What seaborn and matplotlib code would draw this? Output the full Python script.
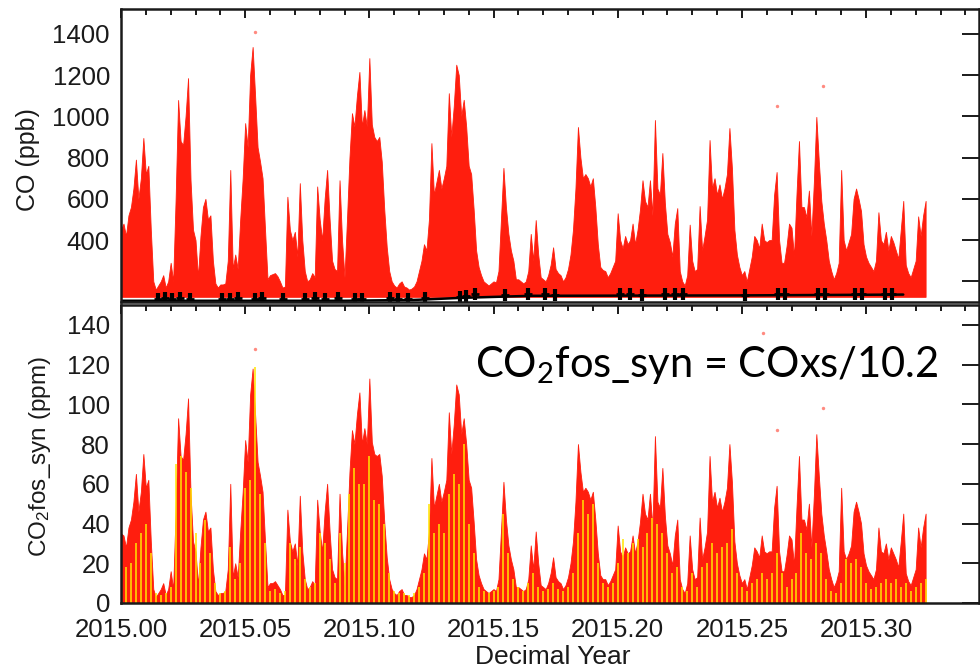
import numpy as np
import pandas as pd
import matplotlib
matplotlib.use("Agg")
import matplotlib.pyplot as plt
import seaborn as sns
from matplotlib.ticker import MultipleLocator, FixedLocator

# ---------------- data ----------------
T_START = 2015.0
STEP_RED = 0.001      # sampling step of the CO / CO2fos series (decimal year)
STEP_YEL = 0.002      # sampling step of the yellow series

co_hi = [450, 480, 420, 520, 560, 650, 790, 600, 700, 895,
         720, 760, 450, 200, 160, 180, 200, 230, 170, 200,
         290, 200, 600, 1079, 880, 860, 1000, 1185, 690, 450,
         400, 220, 420, 560, 600, 500, 520, 300, 190, 170,
         185, 185, 190, 300, 740, 260, 330, 260, 500, 700,
         967, 850, 1200, 1336, 1100, 850, 780, 700, 450, 210,
         230, 235, 240, 225, 200, 170, 175, 610, 450, 400,
         440, 320, 676, 400, 250, 200, 210, 240, 220, 660,
         500, 400, 600, 740, 500, 300, 260, 250, 690, 400,
         220, 500, 800, 1015, 950, 1100, 1215, 950, 1030, 950,
         1282, 960, 900, 880, 900, 780, 550, 367, 250, 200,
         180, 170, 190, 200, 175, 170, 160, 165, 175, 200,
         250, 300, 380, 350, 500, 870, 620, 680, 740, 650,
         700, 760, 1112, 900, 1050, 1250, 1200, 1000, 1080, 950,
         760, 720, 550, 350, 270, 230, 200, 190, 180, 190,
         200, 195, 250, 500, 750, 560, 430, 350, 300, 210,
         210, 200, 190, 200, 250, 430, 300, 497, 330, 220,
         210, 200, 230, 280, 365, 260, 240, 230, 200, 220,
         260, 330, 450, 650, 948, 800, 700, 720, 700, 660,
         700, 560, 380, 270, 255, 250, 220, 240, 270, 300,
         530, 400, 360, 420, 380, 400, 480, 380, 450, 550,
         690, 590, 560, 690, 520, 982, 650, 620, 822, 580,
         430, 390, 320, 480, 555, 250, 200, 180, 230, 475,
         300, 250, 260, 565, 350, 420, 500, 885, 650, 700,
         620, 670, 600, 650, 720, 943, 750, 450, 330, 270,
         230, 250, 200, 260, 320, 420, 400, 360, 480, 400,
         390, 400, 400, 620, 730, 400, 290, 290, 370, 480,
         460, 320, 620, 880, 560, 560, 510, 640, 420, 680,
         997, 780, 590, 480, 400, 300, 250, 210, 240, 290,
         740, 400, 350, 390, 430, 600, 650, 600, 540, 380,
         320, 290, 270, 250, 300, 535, 400, 380, 440, 350,
         420, 390, 350, 310, 450, 590, 280, 240, 220, 260,
         300, 515, 420, 520, 590]
CO_FLOOR = 125

co2_hi = [35, 34, 28, 38, 42, 51, 65, 46, 56, 75,
          58, 62, 31, 7, 3, 5, 7, 10, 4, 7,
          16, 7, 46, 93, 74, 72, 85, 103, 55, 31,
          26, 9, 28, 42, 46, 36, 38, 17, 6, 4,
          5, 5, 6, 17, 60, 13, 20, 13, 36, 56,
          82, 71, 105, 118, 95, 71, 64, 56, 31, 8,
          10, 10, 11, 9, 7, 4, 4, 47, 31, 26,
          30, 19, 54, 26, 12, 7, 8, 11, 9, 52,
          36, 26, 46, 60, 36, 17, 13, 12, 55, 26,
          9, 36, 66, 87, 80, 95, 106, 80, 88, 80,
          113, 81, 75, 74, 75, 64, 41, 23, 12, 7,
          5, 4, 6, 7, 4, 4, 3, 3, 4, 7,
          12, 17, 25, 22, 36, 73, 48, 54, 60, 51,
          56, 62, 96, 75, 90, 110, 105, 85, 93, 80,
          62, 58, 41, 22, 14, 10, 7, 6, 5, 6,
          7, 6, 12, 36, 61, 42, 29, 22, 17, 8,
          8, 7, 6, 7, 12, 29, 17, 36, 20, 9,
          8, 7, 10, 15, 23, 13, 11, 10, 7, 9,
          13, 20, 31, 51, 80, 66, 56, 58, 56, 52,
          56, 42, 25, 14, 12, 12, 9, 11, 14, 17,
          39, 26, 23, 28, 25, 26, 34, 25, 31, 41,
          55, 45, 42, 55, 38, 84, 51, 48, 68, 44,
          29, 25, 19, 34, 42, 12, 7, 5, 10, 34,
          17, 12, 13, 43, 22, 28, 36, 74, 51, 56,
          48, 53, 46, 51, 58, 80, 61, 31, 20, 14,
          10, 12, 7, 13, 19, 28, 26, 23, 34, 26,
          25, 26, 26, 48, 59, 26, 16, 16, 24, 34,
          32, 19, 48, 74, 42, 42, 37, 50, 28, 54,
          85, 64, 45, 34, 26, 17, 12, 8, 11, 16,
          58, 26, 22, 25, 29, 46, 51, 46, 40, 25,
          19, 16, 14, 12, 17, 38, 26, 25, 30, 22,
          28, 25, 22, 18, 31, 45, 15, 11, 9, 13,
          17, 38, 28, 38, 45]

yel_hi = [12, 18, 20, 30, 35, 40, 25, 5, 4, 5,
          8, 70, 74, 66, 58, 35, 20, 42, 25, 10,
          5, 6, 28, 12, 20, 58, 62, 119, 55, 30,
          6, 7, 5, 6, 30, 22, 28, 12, 8, 10,
          35, 30, 22, 10, 35, 20, 55, 68, 60, 60,
          74, 52, 50, 40, 15, 6, 5, 5, 4, 5,
          8, 15, 50, 35, 40, 35, 55, 65, 60, 80,
          40, 25, 8, 6, 5, 6, 8, 45, 25, 12,
          8, 6, 10, 15, 8, 6, 7, 10, 7, 6,
          8, 15, 35, 52, 45, 50, 20, 10, 8, 10,
          20, 32, 25, 30, 32, 28, 35, 43, 40, 35,
          25, 15, 18, 8, 6, 15, 8, 18, 20, 30,
          25, 28, 30, 37, 15, 8, 6, 10, 12, 15,
          12, 15, 25, 15, 8, 12, 15, 35, 25, 22,
          30, 25, 12, 6, 5, 10, 22, 20, 22, 18,
          10, 7, 8, 10, 12, 10, 12, 8, 10, 6,
          8, 10, 12]

# sparse single points above the dense envelopes
co_out_t = [2015.054, 2015.2642, 2015.2827]
co_out_v = [1409, 1050, 1145]
co2_out_t = [2015.054, 2015.2586, 2015.2642, 2015.2827]
co2_out_v = [128, 136, 87, 98]

# background CO (black)
bg_t = [2015.0149, 2015.0177, 2015.0205, 2015.0238, 2015.0278, 2015.0407, 2015.0439,
        2015.0471, 2015.0540, 2015.0568, 2015.0652, 2015.0741, 2015.0781, 2015.0822,
        2015.0874, 2015.0942, 2015.0971, 2015.1083, 2015.1116, 2015.1156, 2015.1224,
        2015.1365, 2015.1389, 2015.1426, 2015.1547, 2015.1639, 2015.1708, 2015.1748,
        2015.2010, 2015.2050, 2015.2098, 2015.2191, 2015.2231, 2015.2263, 2015.2513,
        2015.2646, 2015.2674, 2015.2807, 2015.2835, 2015.2956, 2015.2984, 2015.3077,
        2015.3105]
bg_v = [115, 118, 116, 117, 114, 113, 116, 118, 115, 117, 114, 116, 118, 115, 117,
        116, 114, 117, 115, 116, 119, 126, 130, 140, 136, 138, 137, 135, 137, 139,
        136, 138, 140, 137, 136, 138, 140, 137, 139, 141, 138, 140, 139]
bgline_t = [2015.000, 2015.090, 2015.118, 2015.137, 2015.165, 2015.250, 2015.315]
bgline_v = [106, 106, 110, 120, 130, 132, 136]

x_major = [2015.00, 2015.05, 2015.10, 2015.15, 2015.20, 2015.25, 2015.30]
x_labels = ["2015.00", "2015.05", "2015.10", "2015.15", "2015.20", "2015.25", "2015.30"]
co_ticks = [200, 400, 600, 800, 1000, 1200, 1400]
co_labels = ["", "400", "600", "800", "1000", "1200", "1400"]
co2_ticks = [0, 20, 40, 60, 80, 100, 120, 140]
co2_labels = ["0", "20", "40", "60", "80", "100", "120", "140"]

t_red = np.round(T_START + STEP_RED * np.arange(len(co_hi)), 4)
t_yel = np.round(T_START + STEP_YEL * np.arange(len(yel_hi)), 4)

df_red = pd.DataFrame({"t": t_red, "co": co_hi, "co2": co2_hi})
df_yel = pd.DataFrame({"t": t_yel, "y": yel_hi})
df_bg = pd.DataFrame({"t": bg_t, "v": bg_v})
df_bgl = pd.DataFrame({"t": bgline_t, "v": bgline_v})

# ---------------- style ----------------
sns.set_theme(style="white")
plt.rcParams["font.family"] = ["Liberation Sans", "DejaVu Sans"]
plt.rcParams["mathtext.default"] = "regular"
TXT = "#1a1a1a"
RED = "#ff1e0e"
PINK = "#ff8a80"
YEL = "#ffe600"

fig = plt.figure(figsize=(9.8, 6.71), dpi=100)
L, R = 121 / 980, 979 / 980
ax1 = fig.add_axes([L, 1 - 302 / 671, R - L, 293 / 671])
ax2 = fig.add_axes([L, 1 - 603 / 671, R - L, 298 / 671])

XLIM = (2015.0, 2015.3455)

# ---- top panel: CO ----
ax1.fill_between(df_red["t"], CO_FLOOR, df_red["co"], color=RED, linewidth=0.6,
                 edgecolor=RED)
sns.scatterplot(x=co_out_t, y=co_out_v, ax=ax1, color=PINK, s=6, linewidth=0, legend=False)
sns.lineplot(data=df_bgl, x="t", y="v", ax=ax1, color="black", linewidth=1.8, legend=False)
sns.scatterplot(data=df_bg, x="t", y="v", ax=ax1, color="black", marker="|", s=70,
                linewidth=3.0, legend=False)
sns.scatterplot(data=df_bg, x="t", y="v", ax=ax1, color="black", marker="_", s=40,
                linewidth=2.0, legend=False)
ax1.set_xlim(*XLIM)
ax1.set_ylim(100, 1520)

# ---- bottom panel: CO2fos_syn ----
ax2.fill_between(df_red["t"], 0, df_red["co2"], color=RED, linewidth=0.6, edgecolor=RED)
ax2.vlines(df_yel["t"], 0, df_yel["y"], colors=YEL, linewidth=1.1)
sns.scatterplot(x=co2_out_t, y=co2_out_v, ax=ax2, color=PINK, s=6, linewidth=0, legend=False)
ax2.set_xlim(*XLIM)
ax2.set_ylim(0, 150)

for ax in (ax1, ax2):
    ax.xaxis.set_major_locator(FixedLocator(x_major))
    ax.xaxis.set_minor_locator(MultipleLocator(0.01))
    for s in ax.spines.values():
        s.set_color("#1a1a1a")
        s.set_linewidth(1.8)
        s.set_zorder(5)
    ax.tick_params(axis="both", which="both", direction="in", top=True, right=True,
                   color="#1a1a1a", width=1.4, labelsize=18.5, labelcolor=TXT)
    ax.tick_params(axis="y", which="major", length=12, pad=8)
    ax.tick_params(axis="y", which="minor", length=6.5, right=False)
    ax.tick_params(axis="x", which="major", length=6.5, pad=11)
    ax.tick_params(axis="x", which="minor", length=4)
    ax.set_xlabel("")
    ax.set_ylabel("")

ax1.set_xticklabels([])
ax1.yaxis.set_major_locator(FixedLocator(co_ticks))
ax1.set_yticklabels(co_labels)
ax1.yaxis.set_minor_locator(MultipleLocator(40))

ax2.set_xticklabels(x_labels)
ax2.yaxis.set_major_locator(FixedLocator(co2_ticks))
ax2.set_yticklabels(co2_labels)
ax2.yaxis.set_minor_locator(MultipleLocator(4))

fig.text(28 / 980, 1 - 160 / 671, "CO (ppb)", rotation=90, ha="center", va="center",
         fontsize=18, color=TXT)
fig.text(40 / 980, 1 - 457 / 671, "CO$_2$fos_syn (ppm)", rotation=90, ha="center",
         va="center", fontsize=17.5, color=TXT)
fig.text(553 / 980, 1 - 657 / 671, "Decimal Year", ha="center", va="center",
         fontsize=19, color=TXT)
fig.text(475 / 980, 1 - 377 / 671, "CO$_2$fos_syn = COxs/10.2", ha="left",
         va="baseline", fontsize=30, color="black", family=["Lato", "DejaVu Sans"])

fig.savefig("out.png", dpi=100)
